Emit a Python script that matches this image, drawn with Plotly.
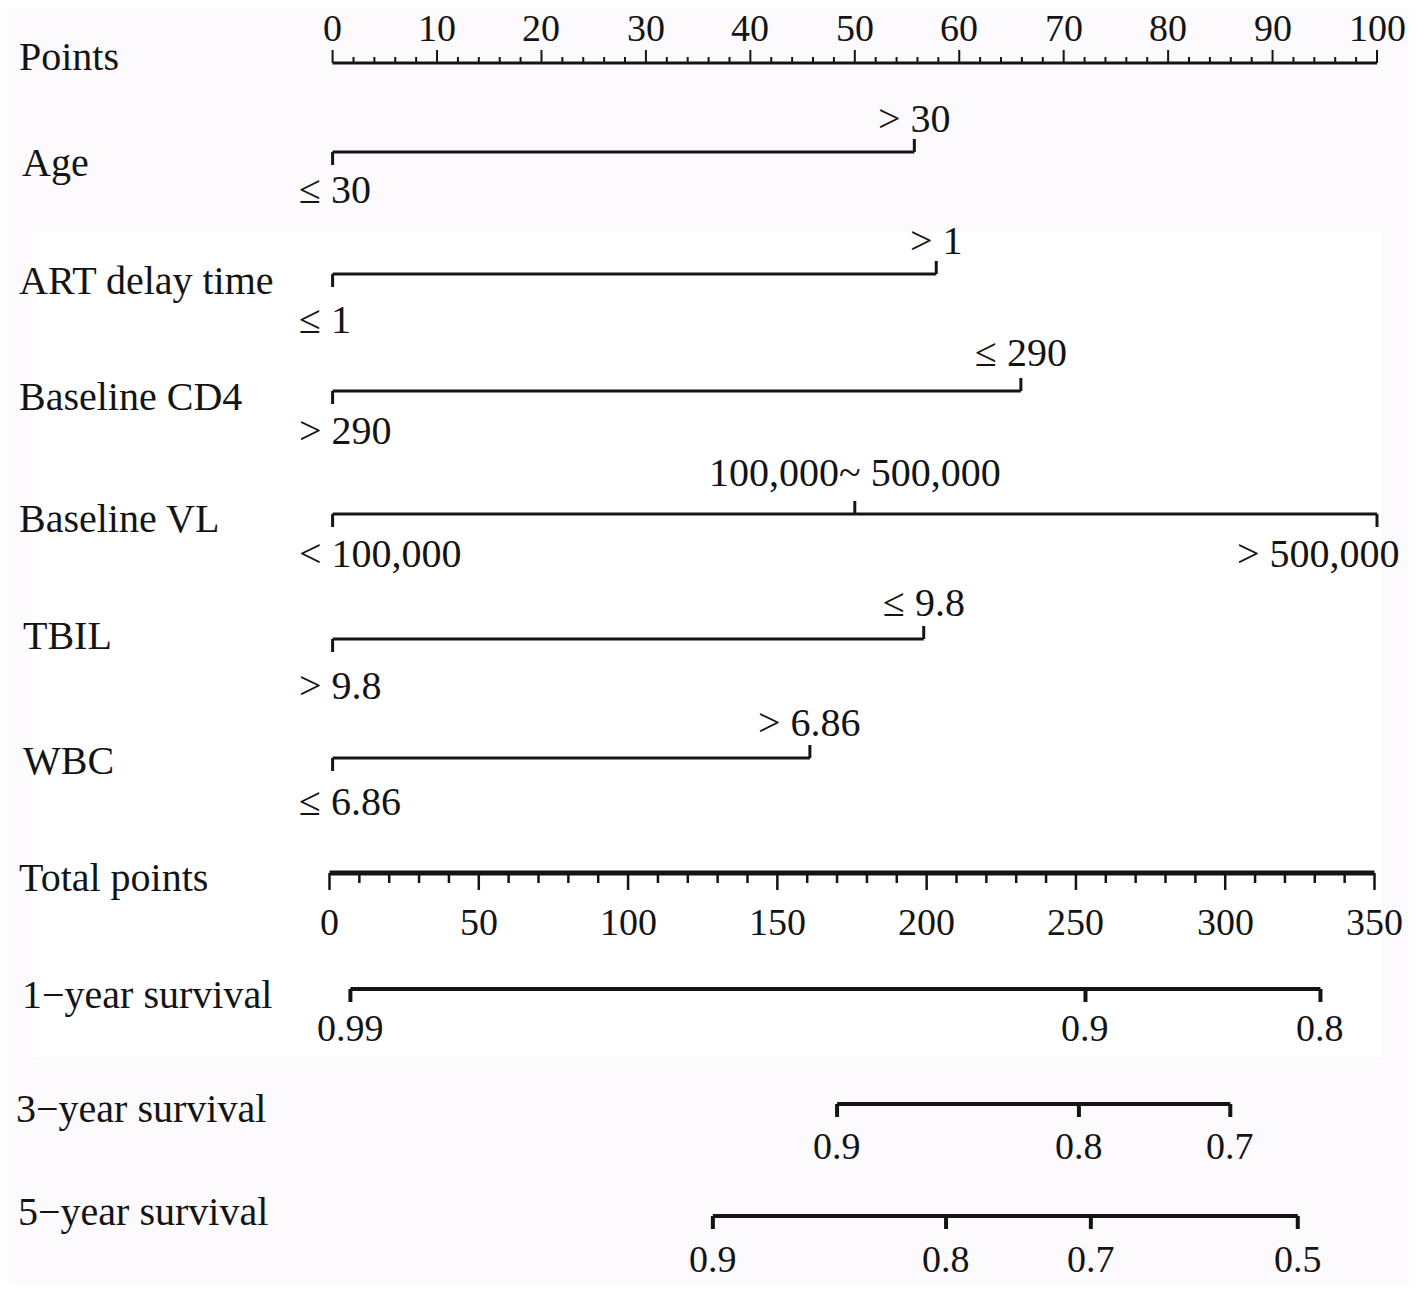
import plotly.graph_objects as go

FONT = 'Liberation Serif, Times New Roman, serif'
INK = '#141414'

# ---- data ----
points_ticks = list(range(0, 101, 10))
points_minor = list(range(0, 101, 2))

age_levels = ['≤ 30', '> 30']
age_points = [0, 55.7]
art_levels = ['≤ 1', '> 1']
art_points = [0, 57.8]
cd4_levels = ['> 290', '≤ 290']
cd4_points = [0, 65.9]
vl_levels = ['< 100,000', '100,000~ 500,000', '> 500,000']
vl_points = [0, 50, 100]
tbil_levels = ['> 9.8', '≤ 9.8']
tbil_points = [0, 56.6]
wbc_levels = ['≤ 6.86', '> 6.86']
wbc_points = [0, 45.7]

total_ticks = list(range(0, 351, 50))
total_minor = list(range(0, 351, 10))

surv1_labels = ['0.99', '0.9', '0.8']
surv1_total = [7.0, 253.2, 331.9]
surv3_labels = ['0.9', '0.8', '0.7']
surv3_total = [170.0, 251.0, 301.7]
surv5_labels = ['0.9', '0.8', '0.7', '0.5']
surv5_total = [128.4, 206.5, 255.0, 324.3]

# ---- page geometry (screen pixels, body margin 8px) ----
OX, OY = 8, 8
W, H = 1401, 1276
PT0, PT100 = 332.6, 1377.0     # screen x of points 0 / 100
TT0, TT350 = 329.5, 1374.5     # screen x of total points 0 / 350
k_pt = (PT100 - PT0) / 100
k_tt = (TT350 - TT0) / 350


def sx_pt(sx):
    return (sx - PT0) / k_pt


def paper_x(sx):
    return (sx - OX) / W


def paper_y(sy):
    return 1 - (sy - OY) / H


fig = go.Figure()
annos = []


def segs(pairs):
    xs, ys = [], []
    for (x0, y0, x1, y1) in pairs:
        xs += [x0, x1, None]
        ys += [y0, y1, None]
    return xs, ys


def add_lines(pairs, width, axis='x'):
    xs, ys = segs(pairs)
    fig.add_trace(go.Scatter(x=xs, y=ys, mode='lines', xaxis=axis,
                             line=dict(color=INK, width=width),
                             hoverinfo='skip', showlegend=False))


def label(text, x, y, xref='x', xanchor='center', xshift=0, size=40):
    annos.append(dict(text=text, x=x, y=y, xref=xref, yref='y',
                      xanchor=xanchor, yanchor='middle', xshift=xshift,
                      showarrow=False, font=dict(family=FONT, size=size, color=INK)))


# row labels: (text, screen x, screen y centre)
row_labels = [
    ('Points', 17, 56), ('Age', 20, 162), ('ART delay time', 17, 280),
    ('Baseline CD4', 17, 396), ('Baseline VL', 17, 518), ('TBIL', 21, 635),
    ('WBC', 21, 760), ('Total points', 17, 877), ('1\u2212year survival', 20, 994),
    ('3\u2212year survival', 14, 1108), ('5\u2212year survival', 16, 1211),
]
for txt, sx, sy in row_labels:
    label(txt, sx_pt(sx), sy, xanchor='left')

# Points scale
y_pts = 63
add_lines([(0, y_pts, 100, y_pts)], 3)
add_lines([(v, y_pts, v, y_pts - (13 if v % 10 == 0 else 6)) for v in points_minor], 2)
for v in points_ticks:
    label(str(v), v, 28, size=38)

# categorical predictors
cat_rows = [
    (age_levels, age_points, ['below', 'above'], 152, -34, 37),
    (art_levels, art_points, ['below', 'above'], 274, -34, 45),
    (cd4_levels, cd4_points, ['below', 'above'], 391, -39, 39),
    (vl_levels, vl_points, ['below', 'above', 'below'], 514, -42, 39),
    (tbil_levels, tbil_points, ['below', 'above'], 639, -37, 46),
    (wbc_levels, wbc_points, ['below', 'above'], 758, -36, 43),
]
for levels, pts, sides, y, up, down in cat_rows:
    pairs = [(min(pts), y, max(pts), y)]
    for p, s in zip(pts, sides):
        pairs.append((p, y, p, y + (13 if s == 'below' else -13)))
    add_lines(pairs, 3)
    for lv, p, s in zip(levels, pts, sides):
        if s == 'above':
            label(lv, p, y + up)
        elif p == min(pts):
            label(lv, p, y + down, xanchor='left', xshift=297 - PT0)
        else:
            label(lv, p, y + down, xanchor='right', xshift=1402 - PT100)

# Total points scale
y_tot = 873
add_lines([(0, y_tot, 350, y_tot)], 5, axis='x2')
add_lines([(v, y_tot, v, y_tot + (17 if v % 50 == 0 else 10)) for v in total_minor], 2.5, axis='x2')
for v in total_ticks:
    label(str(v), v, 922, xref='x2', size=38)

# survival scales
surv_rows = [
    (surv1_labels, surv1_total, 989, 39),
    (surv3_labels, surv3_total, 1104, 42),
    (surv5_labels, surv5_total, 1216, 43),
]
for labs, tots, y, down in surv_rows:
    pairs = [(min(tots), y, max(tots), y)]
    pairs += [(t, y, t, y + 13) for t in tots]
    add_lines(pairs, 4, axis='x2')
    for lb, t in zip(labs, tots):
        label(lb, t, y + down, xref='x2', size=38)

fig.update_layout(
    width=W, height=H,
    margin=dict(l=0, r=0, t=0, b=0),
    paper_bgcolor='#fcfafc', plot_bgcolor='rgba(0,0,0,0)',
    showlegend=False,
    annotations=annos,
    shapes=[dict(type='rect', xref='paper', yref='paper', layer='below',
                 x0=paper_x(33), x1=paper_x(1382), y0=paper_y(1057), y1=paper_y(232),
                 line=dict(width=0), fillcolor='white')],
    xaxis=dict(range=[sx_pt(OX), sx_pt(OX + W)], visible=False, fixedrange=True),
    xaxis2=dict(range=[(OX - TT0) / k_tt, (OX + W - TT0) / k_tt], visible=False,
                overlaying='x', fixedrange=True),
    yaxis=dict(range=[OY + H, OY], visible=False, fixedrange=True),
)

fig.write_html("out.html")
